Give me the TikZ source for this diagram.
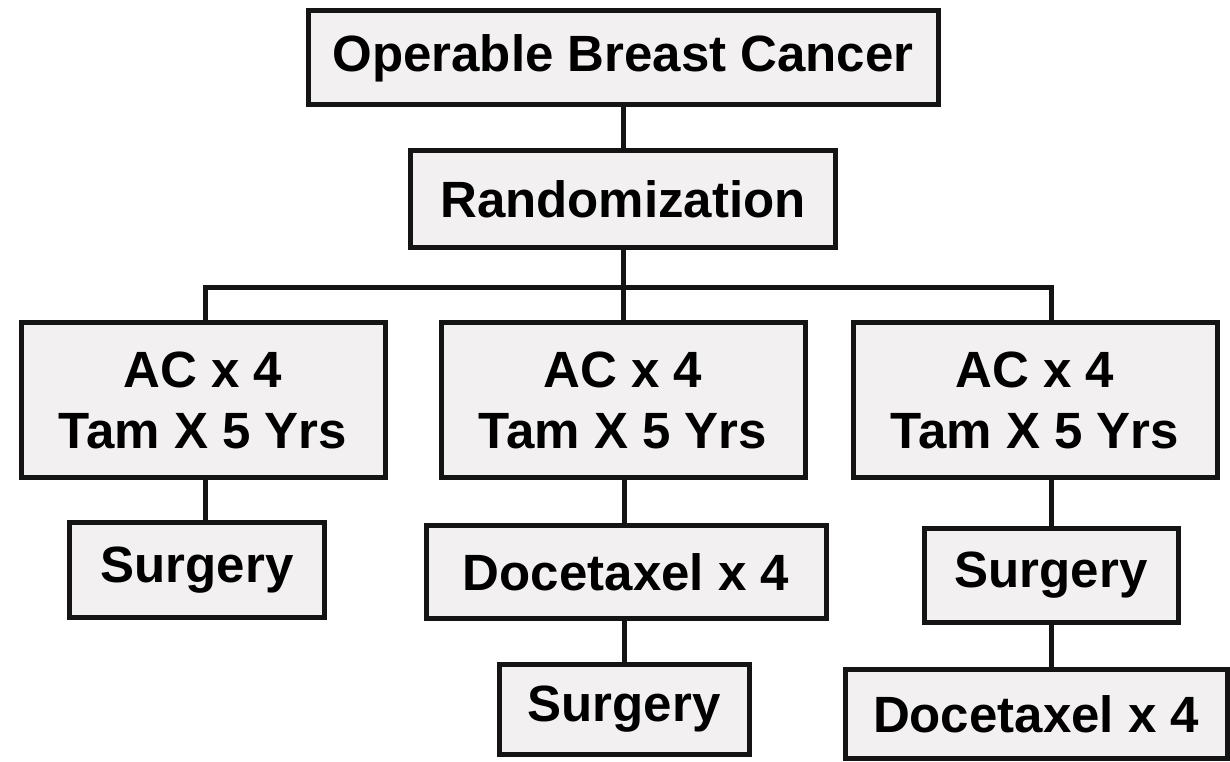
\documentclass[tikz,border=0pt]{standalone}
\usepackage{fontspec}
\setmainfont{Liberation Sans}
\usepackage{tikz}
\usetikzlibrary{calc, positioning}
\usepackage{xcolor}
\definecolor{boxfill}{RGB}{243,240,242}
\definecolor{boxline}{RGB}{20,20,20}

\begin{document}
\begin{tikzpicture}[x=1pt, y=-1pt, line width=5pt,
    every node/.style={font=\fontsize{51}{61}\selectfont\bfseries},
    stage/.style={rectangle, draw=boxline, fill=boxfill, line width=5pt, inner sep=0pt, align=center}]
        \useasboundingbox (0,0) rectangle (1230,762);
        % top of the trial
        \node[stage, minimum width=630, minimum height=94] (cancer) at (623, 58) {Operable Breast Cancer};
        \node[stage, minimum width=425, minimum height=97] (rand) at (623, 199) {Randomization};
        % the three arms
        \foreach \n/\xp in {L/203, M/623, R/1035} {
          \node[stage, minimum width=364, minimum height=155] (ac\n) at (\xp, 400) {AC x 4\\Tam X 5 Yrs};
        }
        % after the arms
        \node[stage, minimum width=255, minimum height=95] (surgL) at (197, 570) {Surgery};
        \node[stage, minimum width=400, minimum height=93] (doceM) at (626, 572) {Docetaxel x 4};
        \node[stage, minimum width=250, minimum height=90] (surgM) at (624, 709) {Surgery};
        \node[stage, minimum width=254, minimum height=94] (surgR) at (1051, 575) {Surgery};
        \node[stage, minimum width=382, minimum height=89] (doceR) at (1036, 714) {Docetaxel x 4};
        % branch lines
        \coordinate (busL) at (205, 287);
        \coordinate (busR) at (1051, 287);
        \draw[boxline] (cancer) -- (rand);
        \draw[boxline] (rand) -- (acM);
        \draw[boxline] (acL.north -| busL) -- (busL) -- (busR) -- (acR.north -| busR);
        \draw[boxline] (acL.south -| busL) -- (surgL.north -| busL);
        \draw[boxline] (doceM.north -| surgM) -- (acM.south -| surgM);
        \draw[boxline] (doceM.south -| surgM) -- (surgM.north);
        \draw[boxline] (acR.south -| surgR) -- (surgR.north);
        \draw[boxline] (surgR.south) -- (surgR.south |- doceR.north);
      \end{tikzpicture}
\end{document}
